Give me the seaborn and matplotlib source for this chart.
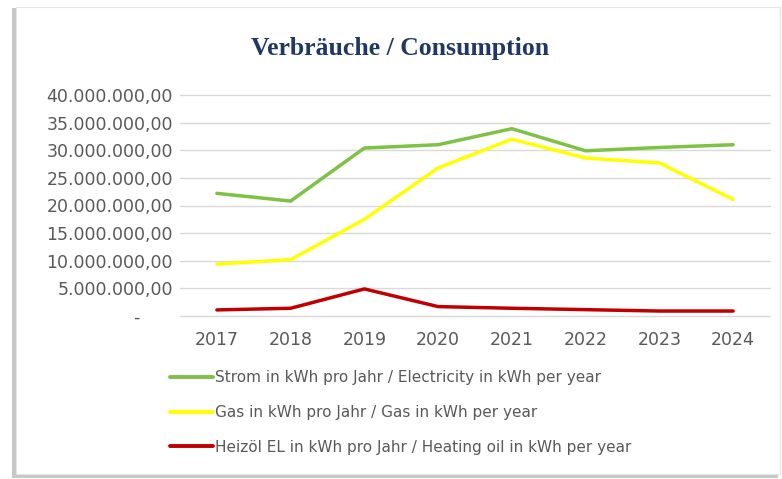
import pandas as pd
import numpy as np
import matplotlib.pyplot as plt
import seaborn as sns
from matplotlib.patches import Rectangle
from matplotlib.ticker import FuncFormatter

# --- Daten (kWh pro Jahr) ---
jahre = ["2017", "2018", "2019", "2020", "2021", "2022", "2023", "2024"]
strom = [22.2e6, 20.8e6, 30.4e6, 31.0e6, 33.9e6, 29.9e6, 30.5e6, 31.0e6]
gas = [9.4e6, 10.2e6, 17.5e6, 26.8e6, 32.0e6, 28.6e6, 27.7e6, 21.1e6]
heizoel = [1.1e6, 1.4e6, 4.9e6, 1.7e6, 1.4e6, 1.15e6, 0.9e6, 0.9e6]

serien = [
    "Strom in kWh pro Jahr / Electricity in kWh per year",
    "Gas in kWh pro Jahr / Gas in kWh per year",
    "Heizöl EL in kWh pro Jahr / Heating oil in kWh per year",
]
farben = ["#7DC243", "#FFFF00", "#C00000"]

df = pd.concat([
    pd.DataFrame({"Jahr": jahre, "kWh": strom, "Serie": serien[0]}),
    pd.DataFrame({"Jahr": jahre, "kWh": gas, "Serie": serien[1]}),
    pd.DataFrame({"Jahr": jahre, "kWh": heizoel, "Serie": serien[2]}),
])

sns.set_theme(style="white")
plt.rcParams["font.family"] = ["DejaVu Sans"]

W, H = 782, 479
fig = plt.figure(figsize=(W / 100, H / 100), dpi=100)
fig.patch.set_facecolor("white")

# Karte mit Schatten
fig.patches.append(Rectangle((12 / W, 1 - 478 / H), 766 / W, 470 / H,
                             transform=fig.transFigure, facecolor="#c8c8c8",
                             edgecolor="none", zorder=-2))
fig.patches.append(Rectangle((16 / W, 1 - 474 / H), 764 / W, 467 / H,
                             transform=fig.transFigure, facecolor="white",
                             edgecolor="#e4e4e4", linewidth=0.8, zorder=-1))

ax = fig.add_axes([180 / W, 1 - 316 / H, 590 / W, 221 / H])
ax.set_facecolor("none")
ax.set_zorder(2)

sns.lineplot(data=df, x="Jahr", y="kWh", hue="Serie", palette=farben,
             linewidth=2.5, ax=ax, sort=False)

ax.set_xlim(-0.5, len(jahre) - 0.5)
ax.set_ylim(0, 40e6)
ax.set_yticks(np.arange(0, 40e6 + 1, 5e6))


def de_format(v, pos):
    if v == 0:
        return "-      "
    return f"{v:,.2f}".replace(",", "X").replace(".", ",").replace("X", ".")


ax.yaxis.set_major_formatter(FuncFormatter(de_format))
ax.grid(axis="y", color="#d9d9d9", linewidth=1)
ax.grid(axis="x", visible=False)
ax.set_axisbelow(True)
for gl in ax.get_ygridlines():
    gl.set_clip_on(False)
for s in ax.spines.values():
    s.set_visible(False)
ax.tick_params(axis="both", length=0, colors="#595959", labelsize=12.5)
ax.tick_params(axis="y", pad=5)
ax.tick_params(axis="x", pad=11)
ax.set_xlabel("")
ax.set_ylabel("")

ax.get_legend().remove()
handles, labels = ax.get_legend_handles_labels()
leg = fig.legend(handles, labels, loc="upper left",
                 bbox_to_anchor=(170 / W, 1 - 370 / H), frameon=False,
                 fontsize=11, labelcolor="#595959", handlelength=2.8,
                 handletextpad=0.15, labelspacing=1.3, borderpad=0,
                 borderaxespad=0)
leg.set_zorder(3)
for line in leg.get_lines():
    line.set_linewidth(2.8)

fig.text(400 / W, 1 - 48 / H, "Verbräuche / Consumption", ha="center",
         va="center", fontsize=18.5, fontweight="bold", color="#1F3864",
         family=["Liberation Serif", "DejaVu Serif"], zorder=3)

fig.savefig("out.png", dpi=100)
